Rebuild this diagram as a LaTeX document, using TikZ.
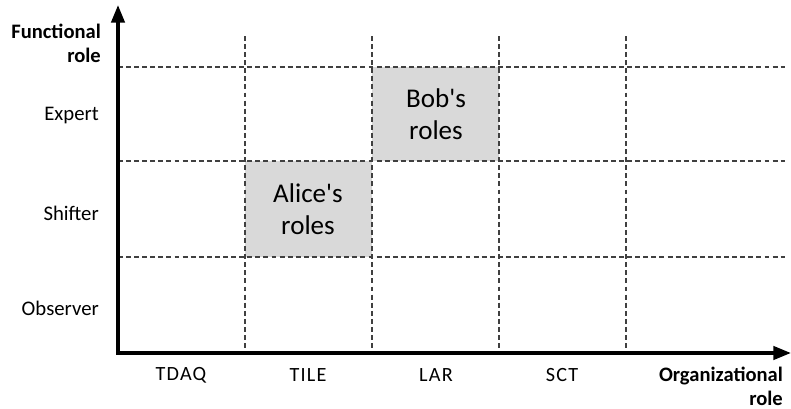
\documentclass[tikz,border=0pt]{standalone}
\usepackage{fontspec}
\setmainfont{Carlito}
\newfontfamily\spacedfont[LetterSpace=6]{Carlito}
\usepackage{xcolor}
\usepackage{tikz}
\usetikzlibrary{arrows.meta}

\definecolor{cellgray}{HTML}{D9D9D9}
\definecolor{gridgray}{HTML}{404040}

\tikzset{
  gridline/.style={gridgray,line width=0.6pt,dash pattern=on 2.8pt off 1.8pt},
  axisline/.style={line width=2pt,-{Triangle[length=10pt,width=7.5pt]}},
  rowlabel/.style={anchor=east,font=\fontsize{11.8}{14}\selectfont},
  collabel/.style={font=\spacedfont\fontsize{11.5}{14}\selectfont},
  axislabel/.style={anchor=east,align=right,font=\bfseries\fontsize{11.7}{13.6}\selectfont},
  cellbox/.style={fill=cellgray},
  celltext/.style={align=center,font=\fontsize{15.4}{18.3}\selectfont}
}

\begin{document}
\begin{tikzpicture}[x=0.02cm,y=-0.02cm]
  \useasboundingbox (0,0) rectangle (791,409);
  % highlighted cells
  \fill[cellbox] (245,161) rectangle (372,257);
  \fill[cellbox] (372,67) rectangle (499,161);
  % dashed grid
  \foreach \x in {245,372,499,626}
    {\draw[gridline] (\x,36) -- (\x,353);}
  \foreach \y in {67,161,257}
    {\draw[gridline] (118,\y) -- (785,\y);}
  % axes
  \coordinate (origin) at (118,353);
  \coordinate (ytip) at (118,5);
  \coordinate (xtip) at (791,353);
  \draw[axisline] (origin) -- (ytip);
  \draw[axisline] ([xshift=-1pt]origin) -- (xtip);
  % row and column labels
  \node[rowlabel] (expert) at (105,116) {Expert};
  \node[rowlabel] (shifter) at (105,213) {Shifter};
  \node[rowlabel] (observer) at (105,308) {Observer};
  \node[collabel] (tdaq) at (181,375) {TDAQ};
  \node[collabel] (tile) at (308,375) {TILE};
  \node[collabel] (lar) at (436,375) {LAR};
  \node[collabel] (sct) at (562,375) {SCT};
  % axis titles
  \node[axislabel] (funcrole) at (107,43) {Functional\\role};
  \node[axislabel] (orgrole) at (789,386) {Organizational\\role};
  % cell texts
  \node[celltext] (alice) at (308,209) {Alice\textquotesingle s\\roles};
  \node[celltext] (bob) at (436,114) {Bob\textquotesingle s\\roles};
\end{tikzpicture}
\end{document}
